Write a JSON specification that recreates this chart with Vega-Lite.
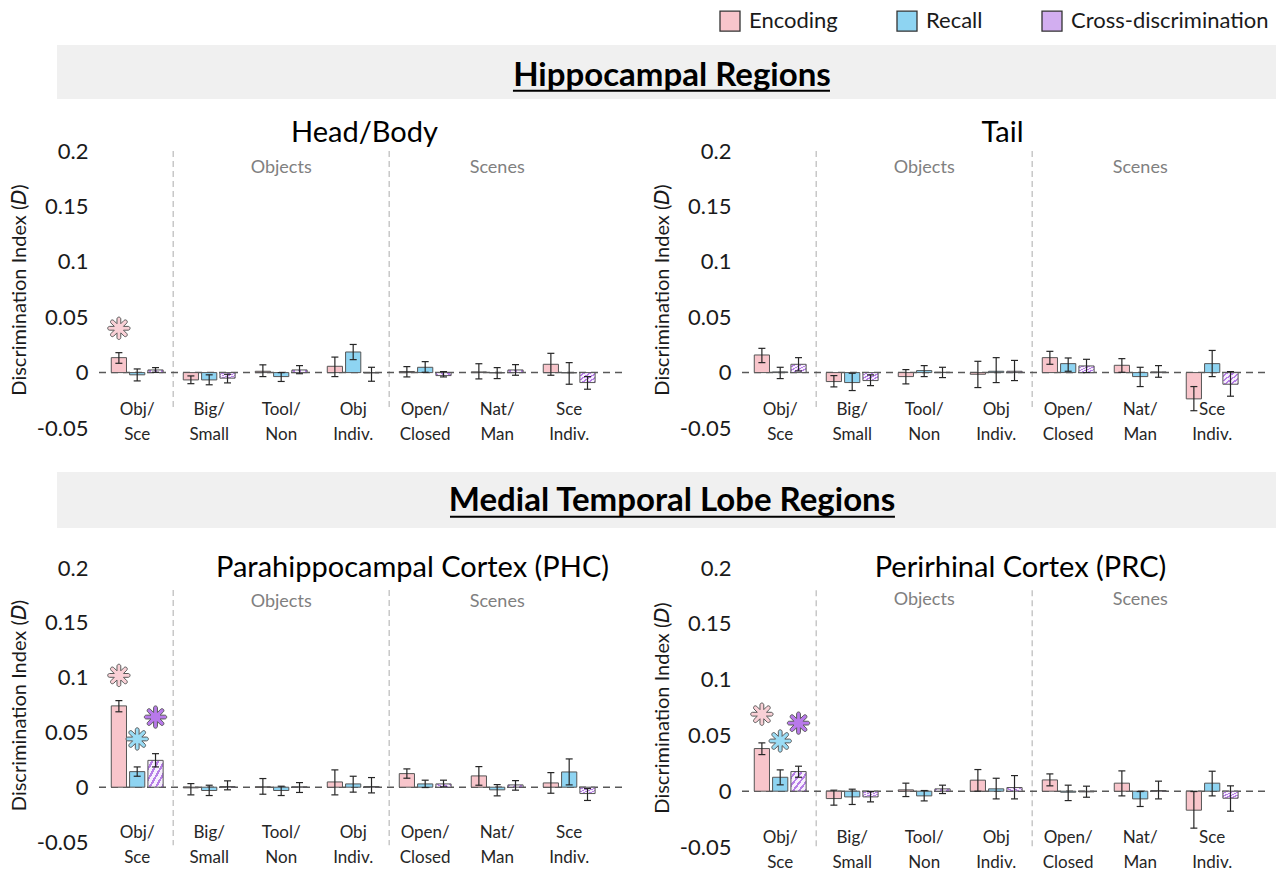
{
"$schema":"https://vega.github.io/schema/vega-lite/v6.json",
"background":"white",
"padding":{"left":9,"top":10,"right":0,"bottom":0},
"config":{"font":"Lato","view":{"stroke":null},"axis":{"grid":false},
"axisX":{"domain":false,"ticks":false,"tickSize":0,"labelAngle":0,"labelFontSize":17,"labelColor":"#262626","labelPadding":0,"labelLineHeight":25,"labelBaseline":"top","labelExpr":"split(datum.label, ' ')"},
"axisY":{"domain":false,"ticks":false,"tickSize":0,"grid":false,"labelFontSize":22,"labelColor":"#1a1a1a","labelPadding":9,"titleFontSize":20,"titleFontWeight":"normal","titleColor":"#1a1a1a","titlePadding":7,"labelExpr":"'' + datum.value","labelFlush":false,"labelOverlap":false},
"title":{"fontSize":29,"fontWeight":"normal","color":"#000","frame":"group","anchor":"middle"},
"point":{"shape":"M0.83,-0.17 A0.17,0.17 0 0 1 0.83,0.17 L0.41,0.17 L0.707,0.467 A0.17,0.17 0 0 1 0.467,0.707 L0.17,0.41 L0.17,0.83 A0.17,0.17 0 0 1 -0.17,0.83 L-0.17,0.41 L-0.467,0.707 A0.17,0.17 0 0 1 -0.707,0.467 L-0.41,0.17 L-0.83,0.17 A0.17,0.17 0 0 1 -0.83,-0.17 L-0.41,-0.17 L-0.707,-0.467 A0.17,0.17 0 0 1 -0.467,-0.707 L-0.17,-0.41 L-0.17,-0.83 A0.17,0.17 0 0 1 0.17,-0.83 L0.17,-0.41 L0.467,-0.707 A0.17,0.17 0 0 1 0.707,-0.467 L0.41,-0.17 Z"}},
"datasets":{
"div":[{"cat":"Big/ Small"},{"cat":"Open/ Closed"}],
"grp":[{"cat":"Tool/ Non","label":"Objects"},{"cat":"Nat/ Man","label":"Scenes"}],
"sig":[
{"panel":"HB","cat":"Obj/ Sce","cond":"Encoding","y":0.040},
{"panel":"PHC","cat":"Obj/ Sce","cond":"Encoding","y":0.102},
{"panel":"PHC","cat":"Obj/ Sce","cond":"Recall","y":0.044},
{"panel":"PHC","cat":"Obj/ Sce","cond":"Cross-discrimination","y":0.064},
{"panel":"PRC","cat":"Obj/ Sce","cond":"Encoding","y":0.069},
{"panel":"PRC","cat":"Obj/ Sce","cond":"Recall","y":0.045},
{"panel":"PRC","cat":"Obj/ Sce","cond":"Cross-discrimination","y":0.061}],
"bars":[
{"panel":"HB","cat":"Obj/ Sce","cond":"Encoding","v":0.0135,"lo":0.0084,"hi":0.018},
{"panel":"HB","cat":"Obj/ Sce","cond":"Recall","v":-0.002,"lo":-0.0075,"hi":0.0033},
{"panel":"HB","cat":"Obj/ Sce","cond":"Cross-discrimination","v":0.0024,"lo":0.0003,"hi":0.0045},
{"panel":"HB","cat":"Big/ Small","cond":"Encoding","v":-0.0066,"lo":-0.010,"hi":-0.003},
{"panel":"HB","cat":"Big/ Small","cond":"Recall","v":-0.0066,"lo":-0.011,"hi":-0.002},
{"panel":"HB","cat":"Big/ Small","cond":"Cross-discrimination","v":-0.005,"lo":-0.0093,"hi":-0.0015},
{"panel":"HB","cat":"Tool/ Non","cond":"Encoding","v":0.0012,"lo":-0.0036,"hi":0.007},
{"panel":"HB","cat":"Tool/ Non","cond":"Recall","v":-0.0036,"lo":-0.008,"hi":0.0},
{"panel":"HB","cat":"Tool/ Non","cond":"Cross-discrimination","v":0.0024,"lo":-0.001,"hi":0.0063},
{"panel":"HB","cat":"Obj Indiv.","cond":"Encoding","v":0.0057,"lo":-0.0036,"hi":0.014},
{"panel":"HB","cat":"Obj Indiv.","cond":"Recall","v":0.0186,"lo":0.0117,"hi":0.0254},
{"panel":"HB","cat":"Obj Indiv.","cond":"Cross-discrimination","v":-0.0003,"lo":-0.0078,"hi":0.0048},
{"panel":"HB","cat":"Open/ Closed","cond":"Encoding","v":0.001,"lo":-0.0039,"hi":0.0054},
{"panel":"HB","cat":"Open/ Closed","cond":"Recall","v":0.0048,"lo":0.0003,"hi":0.0099},
{"panel":"HB","cat":"Open/ Closed","cond":"Cross-discrimination","v":-0.0027,"lo":-0.0039,"hi":0.0009},
{"panel":"HB","cat":"Nat/ Man","cond":"Encoding","v":0.0006,"lo":-0.0057,"hi":0.008},
{"panel":"HB","cat":"Nat/ Man","cond":"Recall","v":-0.0003,"lo":-0.0054,"hi":0.0045},
{"panel":"HB","cat":"Nat/ Man","cond":"Cross-discrimination","v":0.0024,"lo":-0.0024,"hi":0.0072},
{"panel":"HB","cat":"Sce Indiv.","cond":"Encoding","v":0.0075,"lo":-0.0024,"hi":0.0174},
{"panel":"HB","cat":"Sce Indiv.","cond":"Recall","v":-0.0003,"lo":-0.0105,"hi":0.009},
{"panel":"HB","cat":"Sce Indiv.","cond":"Cross-discrimination","v":-0.009,"lo":-0.015,"hi":-0.0036},
{"panel":"T","cat":"Obj/ Sce","cond":"Encoding","v":0.0159,"lo":0.009,"hi":0.0219},
{"panel":"T","cat":"Obj/ Sce","cond":"Recall","v":0.0006,"lo":-0.0054,"hi":0.0048},
{"panel":"T","cat":"Obj/ Sce","cond":"Cross-discrimination","v":0.0075,"lo":0.0015,"hi":0.0135},
{"panel":"T","cat":"Big/ Small","cond":"Encoding","v":-0.0081,"lo":-0.0129,"hi":-0.0027},
{"panel":"T","cat":"Big/ Small","cond":"Recall","v":-0.009,"lo":-0.0162,"hi":-0.0006},
{"panel":"T","cat":"Big/ Small","cond":"Cross-discrimination","v":-0.0072,"lo":-0.0117,"hi":-0.0021},
{"panel":"T","cat":"Tool/ Non","cond":"Encoding","v":-0.0036,"lo":-0.0102,"hi":0.0027},
{"panel":"T","cat":"Tool/ Non","cond":"Recall","v":0.0018,"lo":-0.0036,"hi":0.0063},
{"panel":"T","cat":"Tool/ Non","cond":"Cross-discrimination","v":0.0003,"lo":-0.0045,"hi":0.0048},
{"panel":"T","cat":"Obj Indiv.","cond":"Encoding","v":-0.0015,"lo":-0.0135,"hi":0.0102},
{"panel":"T","cat":"Obj Indiv.","cond":"Recall","v":0.0012,"lo":-0.009,"hi":0.0135},
{"panel":"T","cat":"Obj Indiv.","cond":"Cross-discrimination","v":0.0012,"lo":-0.0072,"hi":0.011},
{"panel":"T","cat":"Open/ Closed","cond":"Encoding","v":0.0135,"lo":0.0075,"hi":0.0192},
{"panel":"T","cat":"Open/ Closed","cond":"Recall","v":0.0081,"lo":0.0012,"hi":0.0132},
{"panel":"T","cat":"Open/ Closed","cond":"Cross-discrimination","v":0.006,"lo":0.0,"hi":0.012},
{"panel":"T","cat":"Nat/ Man","cond":"Encoding","v":0.0066,"lo":0.0003,"hi":0.0126},
{"panel":"T","cat":"Nat/ Man","cond":"Recall","v":-0.0036,"lo":-0.0126,"hi":0.0048},
{"panel":"T","cat":"Nat/ Man","cond":"Cross-discrimination","v":0.0006,"lo":-0.0042,"hi":0.0063},
{"panel":"T","cat":"Sce Indiv.","cond":"Encoding","v":-0.0237,"lo":-0.0344,"hi":-0.0126},
{"panel":"T","cat":"Sce Indiv.","cond":"Recall","v":0.0081,"lo":-0.0036,"hi":0.02},
{"panel":"T","cat":"Sce Indiv.","cond":"Cross-discrimination","v":-0.0105,"lo":-0.0213,"hi":0.0009},
{"panel":"PHC","cat":"Obj/ Sce","cond":"Encoding","v":0.0742,"lo":0.0688,"hi":0.079},
{"panel":"PHC","cat":"Obj/ Sce","cond":"Recall","v":0.0142,"lo":0.01,"hi":0.0185},
{"panel":"PHC","cat":"Obj/ Sce","cond":"Cross-discrimination","v":0.0245,"lo":0.0185,"hi":0.0306},
{"panel":"PHC","cat":"Big/ Small","cond":"Encoding","v":-0.0006,"lo":-0.007,"hi":0.0033},
{"panel":"PHC","cat":"Big/ Small","cond":"Recall","v":-0.003,"lo":-0.0076,"hi":0.0018},
{"panel":"PHC","cat":"Big/ Small","cond":"Cross-discrimination","v":0.0006,"lo":-0.0024,"hi":0.0058},
{"panel":"PHC","cat":"Tool/ Non","cond":"Encoding","v":0.0003,"lo":-0.0064,"hi":0.0079},
{"panel":"PHC","cat":"Tool/ Non","cond":"Recall","v":-0.003,"lo":-0.0076,"hi":0.0009},
{"panel":"PHC","cat":"Tool/ Non","cond":"Cross-discrimination","v":0.0003,"lo":-0.0048,"hi":0.0042},
{"panel":"PHC","cat":"Obj Indiv.","cond":"Encoding","v":0.0048,"lo":-0.007,"hi":0.0158},
{"panel":"PHC","cat":"Obj Indiv.","cond":"Recall","v":0.003,"lo":-0.0045,"hi":0.01},
{"panel":"PHC","cat":"Obj Indiv.","cond":"Cross-discrimination","v":0.0006,"lo":-0.0052,"hi":0.0088},
{"panel":"PHC","cat":"Open/ Closed","cond":"Encoding","v":0.0124,"lo":0.0082,"hi":0.0167},
{"panel":"PHC","cat":"Open/ Closed","cond":"Recall","v":0.003,"lo":-0.0003,"hi":0.0064},
{"panel":"PHC","cat":"Open/ Closed","cond":"Cross-discrimination","v":0.003,"lo":0.0003,"hi":0.0064},
{"panel":"PHC","cat":"Nat/ Man","cond":"Encoding","v":0.0103,"lo":0.0018,"hi":0.0188},
{"panel":"PHC","cat":"Nat/ Man","cond":"Recall","v":-0.0024,"lo":-0.0079,"hi":0.0024},
{"panel":"PHC","cat":"Nat/ Man","cond":"Cross-discrimination","v":0.0021,"lo":-0.0027,"hi":0.006},
{"panel":"PHC","cat":"Sce Indiv.","cond":"Encoding","v":0.0039,"lo":-0.0055,"hi":0.0133},
{"panel":"PHC","cat":"Sce Indiv.","cond":"Recall","v":0.0139,"lo":0.0021,"hi":0.0258},
{"panel":"PHC","cat":"Sce Indiv.","cond":"Cross-discrimination","v":-0.0058,"lo":-0.0121,"hi":-0.0012},
{"panel":"PRC","cat":"Obj/ Sce","cond":"Encoding","v":0.0382,"lo":0.0328,"hi":0.0433},
{"panel":"PRC","cat":"Obj/ Sce","cond":"Recall","v":0.0125,"lo":0.0057,"hi":0.0191},
{"panel":"PRC","cat":"Obj/ Sce","cond":"Cross-discrimination","v":0.0176,"lo":0.0125,"hi":0.0224},
{"panel":"PRC","cat":"Big/ Small","cond":"Encoding","v":-0.0066,"lo":-0.0125,"hi":0.0009},
{"panel":"PRC","cat":"Big/ Small","cond":"Recall","v":-0.0051,"lo":-0.0119,"hi":0.0018},
{"panel":"PRC","cat":"Big/ Small","cond":"Cross-discrimination","v":-0.0051,"lo":-0.0096,"hi":-0.0003},
{"panel":"PRC","cat":"Tool/ Non","cond":"Encoding","v":0.0012,"lo":-0.0048,"hi":0.0072},
{"panel":"PRC","cat":"Tool/ Non","cond":"Recall","v":-0.0042,"lo":-0.0087,"hi":0.0006},
{"panel":"PRC","cat":"Tool/ Non","cond":"Cross-discrimination","v":0.0021,"lo":-0.0021,"hi":0.0054},
{"panel":"PRC","cat":"Obj Indiv.","cond":"Encoding","v":0.0099,"lo":0.0,"hi":0.0194},
{"panel":"PRC","cat":"Obj Indiv.","cond":"Recall","v":0.0021,"lo":-0.0069,"hi":0.0116},
{"panel":"PRC","cat":"Obj Indiv.","cond":"Cross-discrimination","v":0.0033,"lo":-0.0069,"hi":0.014},
{"panel":"PRC","cat":"Open/ Closed","cond":"Encoding","v":0.0101,"lo":0.0048,"hi":0.0155},
{"panel":"PRC","cat":"Open/ Closed","cond":"Recall","v":-0.0009,"lo":-0.0084,"hi":0.0054},
{"panel":"PRC","cat":"Open/ Closed","cond":"Cross-discrimination","v":-0.0006,"lo":-0.0054,"hi":0.0045},
{"panel":"PRC","cat":"Nat/ Man","cond":"Encoding","v":0.0072,"lo":-0.0042,"hi":0.0182},
{"panel":"PRC","cat":"Nat/ Man","cond":"Recall","v":-0.0069,"lo":-0.0137,"hi":-0.0003},
{"panel":"PRC","cat":"Nat/ Man","cond":"Cross-discrimination","v":0.0006,"lo":-0.0069,"hi":0.009},
{"panel":"PRC","cat":"Sce Indiv.","cond":"Encoding","v":-0.017,"lo":-0.0331,"hi":-0.0003},
{"panel":"PRC","cat":"Sce Indiv.","cond":"Recall","v":0.0072,"lo":-0.0042,"hi":0.0179},
{"panel":"PRC","cat":"Sce Indiv.","cond":"Cross-discrimination","v":-0.0063,"lo":-0.0179,"hi":0.0048}
]},
"spacing":30,
"vconcat":[
{"spacing":20,"vconcat":[
  {"width":1179,"height":54,"data":{"values":[{"t":"Hippocampal Regions"}]},"layer":[
   {"mark":{"type":"rect","color":"#f0f0f0"},"encoding":{"x":{"datum":-0.0339,"type":"quantitative","scale":{"domain":[0,1],"nice":false,"zero":false},"axis":null},"x2":{"datum":1}}},
   {"mark":{"type":"text","fontSize":33,"fontWeight":"bold","color":"#000","baseline":"alphabetic"},"encoding":{"text":{"field":"t"},"x":{"datum":0.4877,"type":"quantitative"},"y":{"datum":0.24,"type":"quantitative","scale":{"domain":[0,1],"nice":false},"axis":null}}},
   {"mark":{"type":"rule","color":"#000","strokeWidth":2},"encoding":{"x":{"datum":0.3528,"type":"quantitative"},"x2":{"datum":0.6217},"y":{"datum":0.155,"type":"quantitative"}}}
  ]},
 {"spacing":29,"hconcat":[
  {"width":525,"height":277,"title":{"text":"Head/Body","dx":5,"offset":-8},"layer":[
   {"data":{"name":"div"},"mark":{"type":"rule","color":"#bfbfbf","strokeWidth":1.3,"strokeDash":[6,4]},"encoding":{"x":{"field":"cat","type":"nominal","bandPosition":0,"scale":{"domain":["Obj/ Sce","Big/ Small","Tool/ Non","Obj Indiv.","Open/ Closed","Nat/ Man","Sce Indiv."],"paddingInner":0,"paddingOuter":0.146,"align":0.2},"axis":{"title":null,"offset":-27}},"y":{"datum":0.2,"type":"quantitative","scale":{"domain":[-0.05,0.2],"nice":false,"zero":false},"axis":{"values":[-0.05,0,0.05,0.1,0.15,0.2],"title":"Discrimination Index (𝘋)"}},"y2":{"datum":-0.031}}},
   {"data":{"name":"grp"},"mark":{"type":"text","fontSize":18,"color":"#808080"},"encoding":{"x":{"field":"cat","type":"nominal"},"y":{"datum":0.185,"type":"quantitative"},"text":{"field":"label"}}},
   {"data":{"values":[{}]},"mark":{"type":"rule","color":"#595959","strokeWidth":1.5,"strokeDash":[7,5]},"encoding":{"y":{"datum":0,"type":"quantitative"}}},
   {"data":{"name":"bars"},"transform":[{"filter":"datum.panel==='HB' && datum.cond!=='Cross-discrimination'"}],"mark":{"type":"bar","stroke":"#555","strokeWidth":1},"encoding":{"x":{"field":"cat","type":"nominal"},"xOffset":{"field":"cond","type":"nominal","scale":{"domain":["Encoding","Recall","Cross-discrimination"],"paddingInner":0.17,"paddingOuter":0.55}},"y":{"field":"v","type":"quantitative","stack":null},"color":{"field":"cond","type":"nominal","scale":{"domain":["Encoding","Recall","Cross-discrimination"],"range":["#f8c5cb","#8ed4f2","#d2aef0"]},"legend":{"title":null,"orient":"none","legendX":622,"legendY":-35,"direction":"horizontal","symbolType":"square","symbolSize":400,"symbolStrokeColor":"#333","symbolStrokeWidth":1.3,"labelFontSize":22,"labelColor":"#1a1a1a","labelOffset":8,"columnPadding":56,"labelLimit":400}}}},
   {"data":{"name":"bars"},"transform":[{"filter":"datum.panel==='HB' && datum.cond==='Cross-discrimination'"}],"mark":{"type":"bar","stroke":"#555","strokeWidth":1,"fill":{"gradient":"linear","x1":0,"y1":0,"x2":1,"y2":1,"stops":[{"offset":0,"color":"#f7effd"},{"offset":0.12,"color":"#f7effd"},{"offset":0.12,"color":"#b67ee6"},{"offset":0.2,"color":"#b67ee6"},{"offset":0.2,"color":"#f7effd"},{"offset":0.32,"color":"#f7effd"},{"offset":0.32,"color":"#b67ee6"},{"offset":0.4,"color":"#b67ee6"},{"offset":0.4,"color":"#f7effd"},{"offset":0.52,"color":"#f7effd"},{"offset":0.52,"color":"#b67ee6"},{"offset":0.6,"color":"#b67ee6"},{"offset":0.6,"color":"#f7effd"},{"offset":0.72,"color":"#f7effd"},{"offset":0.72,"color":"#b67ee6"},{"offset":0.8,"color":"#b67ee6"},{"offset":0.8,"color":"#f7effd"},{"offset":0.92,"color":"#f7effd"},{"offset":0.92,"color":"#b67ee6"},{"offset":1,"color":"#b67ee6"}]}},"encoding":{"x":{"field":"cat","type":"nominal"},"xOffset":{"field":"cond","type":"nominal","scale":{"domain":["Encoding","Recall","Cross-discrimination"],"paddingInner":0.17,"paddingOuter":0.55}},"y":{"field":"v","type":"quantitative","stack":null}}},
   {"data":{"name":"bars"},"transform":[{"filter":"datum.panel==='HB'"}],"mark":{"type":"rule","color":"#262626","strokeWidth":1.2},"encoding":{"x":{"field":"cat","type":"nominal"},"xOffset":{"field":"cond","type":"nominal","scale":{"domain":["Encoding","Recall","Cross-discrimination"],"paddingInner":0.17,"paddingOuter":0.55}},"y":{"field":"lo","type":"quantitative"},"y2":{"field":"hi"}}},
   {"data":{"name":"bars"},"transform":[{"filter":"datum.panel==='HB'"},{"fold":["lo","hi"],"as":["end","e"]}],"mark":{"type":"tick","size":7,"thickness":1.2,"color":"#262626","opacity":1},"encoding":{"x":{"field":"cat","type":"nominal"},"xOffset":{"field":"cond","type":"nominal","scale":{"domain":["Encoding","Recall","Cross-discrimination"],"paddingInner":0.17,"paddingOuter":0.55}},"y":{"field":"e","type":"quantitative"}}},
   {"data":{"name":"sig"},"transform":[{"filter":"datum.panel==='HB'"}],"mark":{"type":"point","filled":true,"size":500,"stroke":"#595959","strokeWidth":1,"opacity":1},"encoding":{"x":{"field":"cat","type":"nominal"},"xOffset":{"field":"cond","type":"nominal","scale":{"domain":["Encoding","Recall","Cross-discrimination"],"paddingInner":0.17,"paddingOuter":0.55}},"y":{"field":"y","type":"quantitative"},"fill":{"condition":[{"test":"datum.cond==='Encoding'","value":"#f9d0d6"},{"test":"datum.cond==='Recall'","value":"#9adcf5"}],"value":"#b879ea"}}}
  ]},
  {"width":525,"height":277,"title":{"text":"Tail","dx":0,"offset":-8},"layer":[
   {"data":{"name":"div"},"mark":{"type":"rule","color":"#bfbfbf","strokeWidth":1.3,"strokeDash":[6,4]},"encoding":{"x":{"field":"cat","type":"nominal","bandPosition":0,"scale":{"domain":["Obj/ Sce","Big/ Small","Tool/ Non","Obj Indiv.","Open/ Closed","Nat/ Man","Sce Indiv."],"paddingInner":0,"paddingOuter":0.146,"align":0.2},"axis":{"title":null,"offset":-27}},"y":{"datum":0.2,"type":"quantitative","scale":{"domain":[-0.05,0.2],"nice":false,"zero":false},"axis":{"values":[-0.05,0,0.05,0.1,0.15,0.2],"title":"Discrimination Index (𝘋)"}},"y2":{"datum":-0.031}}},
   {"data":{"name":"grp"},"mark":{"type":"text","fontSize":18,"color":"#808080"},"encoding":{"x":{"field":"cat","type":"nominal"},"y":{"datum":0.185,"type":"quantitative"},"text":{"field":"label"}}},
   {"data":{"values":[{}]},"mark":{"type":"rule","color":"#595959","strokeWidth":1.5,"strokeDash":[7,5]},"encoding":{"y":{"datum":0,"type":"quantitative"}}},
   {"data":{"name":"bars"},"transform":[{"filter":"datum.panel==='T' && datum.cond!=='Cross-discrimination'"}],"mark":{"type":"bar","stroke":"#555","strokeWidth":1},"encoding":{"x":{"field":"cat","type":"nominal"},"xOffset":{"field":"cond","type":"nominal","scale":{"domain":["Encoding","Recall","Cross-discrimination"],"paddingInner":0.17,"paddingOuter":0.55}},"y":{"field":"v","type":"quantitative","stack":null},"color":{"field":"cond","type":"nominal","scale":{"domain":["Encoding","Recall","Cross-discrimination"],"range":["#f8c5cb","#8ed4f2","#d2aef0"]},"legend":{"title":null,"orient":"none","legendX":622,"legendY":-35,"direction":"horizontal","symbolType":"square","symbolSize":400,"symbolStrokeColor":"#333","symbolStrokeWidth":1.3,"labelFontSize":22,"labelColor":"#1a1a1a","labelOffset":8,"columnPadding":56,"labelLimit":400}}}},
   {"data":{"name":"bars"},"transform":[{"filter":"datum.panel==='T' && datum.cond==='Cross-discrimination'"}],"mark":{"type":"bar","stroke":"#555","strokeWidth":1,"fill":{"gradient":"linear","x1":0,"y1":0,"x2":1,"y2":1,"stops":[{"offset":0,"color":"#f7effd"},{"offset":0.12,"color":"#f7effd"},{"offset":0.12,"color":"#b67ee6"},{"offset":0.2,"color":"#b67ee6"},{"offset":0.2,"color":"#f7effd"},{"offset":0.32,"color":"#f7effd"},{"offset":0.32,"color":"#b67ee6"},{"offset":0.4,"color":"#b67ee6"},{"offset":0.4,"color":"#f7effd"},{"offset":0.52,"color":"#f7effd"},{"offset":0.52,"color":"#b67ee6"},{"offset":0.6,"color":"#b67ee6"},{"offset":0.6,"color":"#f7effd"},{"offset":0.72,"color":"#f7effd"},{"offset":0.72,"color":"#b67ee6"},{"offset":0.8,"color":"#b67ee6"},{"offset":0.8,"color":"#f7effd"},{"offset":0.92,"color":"#f7effd"},{"offset":0.92,"color":"#b67ee6"},{"offset":1,"color":"#b67ee6"}]}},"encoding":{"x":{"field":"cat","type":"nominal"},"xOffset":{"field":"cond","type":"nominal","scale":{"domain":["Encoding","Recall","Cross-discrimination"],"paddingInner":0.17,"paddingOuter":0.55}},"y":{"field":"v","type":"quantitative","stack":null}}},
   {"data":{"name":"bars"},"transform":[{"filter":"datum.panel==='T'"}],"mark":{"type":"rule","color":"#262626","strokeWidth":1.2},"encoding":{"x":{"field":"cat","type":"nominal"},"xOffset":{"field":"cond","type":"nominal","scale":{"domain":["Encoding","Recall","Cross-discrimination"],"paddingInner":0.17,"paddingOuter":0.55}},"y":{"field":"lo","type":"quantitative"},"y2":{"field":"hi"}}},
   {"data":{"name":"bars"},"transform":[{"filter":"datum.panel==='T'"},{"fold":["lo","hi"],"as":["end","e"]}],"mark":{"type":"tick","size":7,"thickness":1.2,"color":"#262626","opacity":1},"encoding":{"x":{"field":"cat","type":"nominal"},"xOffset":{"field":"cond","type":"nominal","scale":{"domain":["Encoding","Recall","Cross-discrimination"],"paddingInner":0.17,"paddingOuter":0.55}},"y":{"field":"e","type":"quantitative"}}}
  ]}
 ]}
]},
{"spacing":26,"vconcat":[
  {"width":1179,"height":56,"data":{"values":[{"t":"Medial Temporal Lobe Regions"}]},"layer":[
   {"mark":{"type":"rect","color":"#f0f0f0"},"encoding":{"x":{"datum":-0.0339,"type":"quantitative","scale":{"domain":[0,1],"nice":false,"zero":false},"axis":null},"x2":{"datum":1}}},
   {"mark":{"type":"text","fontSize":33,"fontWeight":"bold","color":"#000","baseline":"alphabetic"},"encoding":{"text":{"field":"t"},"x":{"datum":0.4877,"type":"quantitative"},"y":{"datum":0.3,"type":"quantitative","scale":{"domain":[0,1],"nice":false},"axis":null}}},
   {"mark":{"type":"rule","color":"#000","strokeWidth":2},"encoding":{"x":{"datum":0.2994,"type":"quantitative"},"x2":{"datum":0.6768},"y":{"datum":0.2,"type":"quantitative"}}}
  ]},
 {"spacing":29,"hconcat":[
  {"width":525,"height":274,"title":{"text":"Parahippocampal Cortex (PHC)","dx":53,"offset":-26},"layer":[
   {"data":{"name":"div"},"mark":{"type":"rule","color":"#bfbfbf","strokeWidth":1.3,"strokeDash":[6,4]},"encoding":{"x":{"field":"cat","type":"nominal","bandPosition":0,"scale":{"domain":["Obj/ Sce","Big/ Small","Tool/ Non","Obj Indiv.","Open/ Closed","Nat/ Man","Sce Indiv."],"paddingInner":0,"paddingOuter":0.146,"align":0.2},"axis":{"title":null,"offset":-18}},"y":{"datum":0.18,"type":"quantitative","scale":{"domain":[-0.05,0.2],"nice":false,"zero":false},"axis":{"values":[-0.05,0,0.05,0.1,0.15,0.2],"title":"Discrimination Index (𝘋)"}},"y2":{"datum":-0.053}}},
   {"data":{"name":"grp"},"mark":{"type":"text","fontSize":18,"color":"#808080"},"encoding":{"x":{"field":"cat","type":"nominal"},"y":{"datum":0.169,"type":"quantitative"},"text":{"field":"label"}}},
   {"data":{"values":[{}]},"mark":{"type":"rule","color":"#595959","strokeWidth":1.5,"strokeDash":[7,5]},"encoding":{"y":{"datum":0,"type":"quantitative"}}},
   {"data":{"name":"bars"},"transform":[{"filter":"datum.panel==='PHC' && datum.cond!=='Cross-discrimination'"}],"mark":{"type":"bar","stroke":"#555","strokeWidth":1},"encoding":{"x":{"field":"cat","type":"nominal"},"xOffset":{"field":"cond","type":"nominal","scale":{"domain":["Encoding","Recall","Cross-discrimination"],"paddingInner":0.17,"paddingOuter":0.55}},"y":{"field":"v","type":"quantitative","stack":null},"color":{"field":"cond","type":"nominal","scale":{"domain":["Encoding","Recall","Cross-discrimination"],"range":["#f8c5cb","#8ed4f2","#d2aef0"]},"legend":{"title":null,"orient":"none","legendX":622,"legendY":-35,"direction":"horizontal","symbolType":"square","symbolSize":400,"symbolStrokeColor":"#333","symbolStrokeWidth":1.3,"labelFontSize":22,"labelColor":"#1a1a1a","labelOffset":8,"columnPadding":56,"labelLimit":400}}}},
   {"data":{"name":"bars"},"transform":[{"filter":"datum.panel==='PHC' && datum.cond==='Cross-discrimination'"}],"mark":{"type":"bar","stroke":"#555","strokeWidth":1,"fill":{"gradient":"linear","x1":0,"y1":0,"x2":1,"y2":1,"stops":[{"offset":0,"color":"#f7effd"},{"offset":0.12,"color":"#f7effd"},{"offset":0.12,"color":"#b67ee6"},{"offset":0.2,"color":"#b67ee6"},{"offset":0.2,"color":"#f7effd"},{"offset":0.32,"color":"#f7effd"},{"offset":0.32,"color":"#b67ee6"},{"offset":0.4,"color":"#b67ee6"},{"offset":0.4,"color":"#f7effd"},{"offset":0.52,"color":"#f7effd"},{"offset":0.52,"color":"#b67ee6"},{"offset":0.6,"color":"#b67ee6"},{"offset":0.6,"color":"#f7effd"},{"offset":0.72,"color":"#f7effd"},{"offset":0.72,"color":"#b67ee6"},{"offset":0.8,"color":"#b67ee6"},{"offset":0.8,"color":"#f7effd"},{"offset":0.92,"color":"#f7effd"},{"offset":0.92,"color":"#b67ee6"},{"offset":1,"color":"#b67ee6"}]}},"encoding":{"x":{"field":"cat","type":"nominal"},"xOffset":{"field":"cond","type":"nominal","scale":{"domain":["Encoding","Recall","Cross-discrimination"],"paddingInner":0.17,"paddingOuter":0.55}},"y":{"field":"v","type":"quantitative","stack":null}}},
   {"data":{"name":"bars"},"transform":[{"filter":"datum.panel==='PHC'"}],"mark":{"type":"rule","color":"#262626","strokeWidth":1.2},"encoding":{"x":{"field":"cat","type":"nominal"},"xOffset":{"field":"cond","type":"nominal","scale":{"domain":["Encoding","Recall","Cross-discrimination"],"paddingInner":0.17,"paddingOuter":0.55}},"y":{"field":"lo","type":"quantitative"},"y2":{"field":"hi"}}},
   {"data":{"name":"bars"},"transform":[{"filter":"datum.panel==='PHC'"},{"fold":["lo","hi"],"as":["end","e"]}],"mark":{"type":"tick","size":7,"thickness":1.2,"color":"#262626","opacity":1},"encoding":{"x":{"field":"cat","type":"nominal"},"xOffset":{"field":"cond","type":"nominal","scale":{"domain":["Encoding","Recall","Cross-discrimination"],"paddingInner":0.17,"paddingOuter":0.55}},"y":{"field":"e","type":"quantitative"}}},
   {"data":{"name":"sig"},"transform":[{"filter":"datum.panel==='PHC'"}],"mark":{"type":"point","filled":true,"size":500,"stroke":"#595959","strokeWidth":1,"opacity":1},"encoding":{"x":{"field":"cat","type":"nominal"},"xOffset":{"field":"cond","type":"nominal","scale":{"domain":["Encoding","Recall","Cross-discrimination"],"paddingInner":0.17,"paddingOuter":0.55}},"y":{"field":"y","type":"quantitative"},"fill":{"condition":[{"test":"datum.cond==='Encoding'","value":"#f9d0d6"},{"test":"datum.cond==='Recall'","value":"#9adcf5"}],"value":"#b879ea"}}}
  ]},
  {"width":525,"height":279,"title":{"text":"Perirhinal Cortex (PRC)","dx":18,"offset":-26},"layer":[
   {"data":{"name":"div"},"mark":{"type":"rule","color":"#bfbfbf","strokeWidth":1.3,"strokeDash":[6,4]},"encoding":{"x":{"field":"cat","type":"nominal","bandPosition":0,"scale":{"domain":["Obj/ Sce","Big/ Small","Tool/ Non","Obj Indiv.","Open/ Closed","Nat/ Man","Sce Indiv."],"paddingInner":0,"paddingOuter":0.146,"align":0.2},"axis":{"title":null,"offset":-18}},"y":{"datum":0.18,"type":"quantitative","scale":{"domain":[-0.05,0.2],"nice":false,"zero":false},"axis":{"values":[-0.05,0,0.05,0.1,0.15,0.2],"title":"Discrimination Index (𝘋)"}},"y2":{"datum":-0.05}}},
   {"data":{"name":"grp"},"mark":{"type":"text","fontSize":18,"color":"#808080"},"encoding":{"x":{"field":"cat","type":"nominal"},"y":{"datum":0.171,"type":"quantitative"},"text":{"field":"label"}}},
   {"data":{"values":[{}]},"mark":{"type":"rule","color":"#595959","strokeWidth":1.5,"strokeDash":[7,5]},"encoding":{"y":{"datum":0,"type":"quantitative"}}},
   {"data":{"name":"bars"},"transform":[{"filter":"datum.panel==='PRC' && datum.cond!=='Cross-discrimination'"}],"mark":{"type":"bar","stroke":"#555","strokeWidth":1},"encoding":{"x":{"field":"cat","type":"nominal"},"xOffset":{"field":"cond","type":"nominal","scale":{"domain":["Encoding","Recall","Cross-discrimination"],"paddingInner":0.17,"paddingOuter":0.55}},"y":{"field":"v","type":"quantitative","stack":null},"color":{"field":"cond","type":"nominal","scale":{"domain":["Encoding","Recall","Cross-discrimination"],"range":["#f8c5cb","#8ed4f2","#d2aef0"]},"legend":{"title":null,"orient":"none","legendX":622,"legendY":-35,"direction":"horizontal","symbolType":"square","symbolSize":400,"symbolStrokeColor":"#333","symbolStrokeWidth":1.3,"labelFontSize":22,"labelColor":"#1a1a1a","labelOffset":8,"columnPadding":56,"labelLimit":400}}}},
   {"data":{"name":"bars"},"transform":[{"filter":"datum.panel==='PRC' && datum.cond==='Cross-discrimination'"}],"mark":{"type":"bar","stroke":"#555","strokeWidth":1,"fill":{"gradient":"linear","x1":0,"y1":0,"x2":1,"y2":1,"stops":[{"offset":0,"color":"#f7effd"},{"offset":0.12,"color":"#f7effd"},{"offset":0.12,"color":"#b67ee6"},{"offset":0.2,"color":"#b67ee6"},{"offset":0.2,"color":"#f7effd"},{"offset":0.32,"color":"#f7effd"},{"offset":0.32,"color":"#b67ee6"},{"offset":0.4,"color":"#b67ee6"},{"offset":0.4,"color":"#f7effd"},{"offset":0.52,"color":"#f7effd"},{"offset":0.52,"color":"#b67ee6"},{"offset":0.6,"color":"#b67ee6"},{"offset":0.6,"color":"#f7effd"},{"offset":0.72,"color":"#f7effd"},{"offset":0.72,"color":"#b67ee6"},{"offset":0.8,"color":"#b67ee6"},{"offset":0.8,"color":"#f7effd"},{"offset":0.92,"color":"#f7effd"},{"offset":0.92,"color":"#b67ee6"},{"offset":1,"color":"#b67ee6"}]}},"encoding":{"x":{"field":"cat","type":"nominal"},"xOffset":{"field":"cond","type":"nominal","scale":{"domain":["Encoding","Recall","Cross-discrimination"],"paddingInner":0.17,"paddingOuter":0.55}},"y":{"field":"v","type":"quantitative","stack":null}}},
   {"data":{"name":"bars"},"transform":[{"filter":"datum.panel==='PRC'"}],"mark":{"type":"rule","color":"#262626","strokeWidth":1.2},"encoding":{"x":{"field":"cat","type":"nominal"},"xOffset":{"field":"cond","type":"nominal","scale":{"domain":["Encoding","Recall","Cross-discrimination"],"paddingInner":0.17,"paddingOuter":0.55}},"y":{"field":"lo","type":"quantitative"},"y2":{"field":"hi"}}},
   {"data":{"name":"bars"},"transform":[{"filter":"datum.panel==='PRC'"},{"fold":["lo","hi"],"as":["end","e"]}],"mark":{"type":"tick","size":7,"thickness":1.2,"color":"#262626","opacity":1},"encoding":{"x":{"field":"cat","type":"nominal"},"xOffset":{"field":"cond","type":"nominal","scale":{"domain":["Encoding","Recall","Cross-discrimination"],"paddingInner":0.17,"paddingOuter":0.55}},"y":{"field":"e","type":"quantitative"}}},
   {"data":{"name":"sig"},"transform":[{"filter":"datum.panel==='PRC'"}],"mark":{"type":"point","filled":true,"size":500,"stroke":"#595959","strokeWidth":1,"opacity":1},"encoding":{"x":{"field":"cat","type":"nominal"},"xOffset":{"field":"cond","type":"nominal","scale":{"domain":["Encoding","Recall","Cross-discrimination"],"paddingInner":0.17,"paddingOuter":0.55}},"y":{"field":"y","type":"quantitative"},"fill":{"condition":[{"test":"datum.cond==='Encoding'","value":"#f9d0d6"},{"test":"datum.cond==='Recall'","value":"#9adcf5"}],"value":"#b879ea"}}}
  ]}
 ]}
]}
]
}
